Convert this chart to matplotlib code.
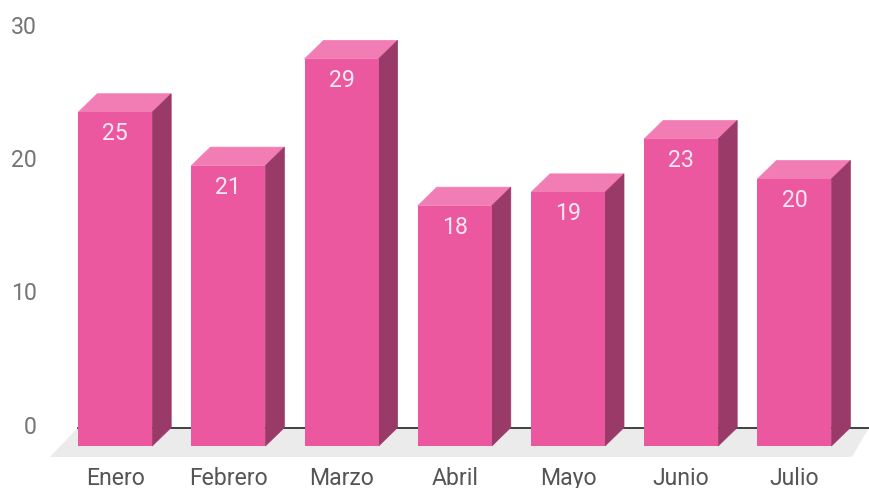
import matplotlib
matplotlib.use("Agg")
import matplotlib.pyplot as plt
from matplotlib.transforms import ScaledTranslation
from matplotlib.patches import Polygon

months = ["Enero", "Febrero", "Marzo", "Abril", "Mayo", "Junio", "Julio"]
values = [25, 21, 29, 18, 19, 23, 20]
y_ticks = [0, 10, 20, 30]

W, H = 869, 489
PX_X = 113.2      # pixels per category
PX_Y = 13.35      # pixels per value unit
X0_PX = 115.2     # centre of first category
Y0_PX = 447       # pixel row of front-plane zero
L, R, T, B = 50, 869, 10, 458  # axes box, in pixels
DX = 19 / PX_X    # depth offset
DY = 18.5 / PX_Y
BW = 74 / PX_X
FS = 16.6

FRONT, TOP, SIDE = "#EC589F", "#F27DB4", "#9A3A68"
FLOOR, AXIS = "#EBEBEB", "#333333"

plt.rcParams["font.family"] = ["Roboto", "DejaVu Sans"]
fig = plt.figure(figsize=(W / 100, H / 100), dpi=100)
ax = fig.add_axes([L / W, 1 - B / H, (R - L) / W, (B - T) / H])
ax.set_xlim((L - X0_PX) / PX_X, (R - X0_PX) / PX_X)
ax.set_ylim((Y0_PX - B) / PX_Y, (Y0_PX - T) / PX_Y)
for s in ax.spines.values():
    s.set_visible(False)
xmin, xmax = ax.get_xlim()
ymin, _ = ax.get_ylim()

# floor and back axis line
ax.add_patch(Polygon([(xmin, ymin), (xmin + 802 / PX_X, ymin), (xmax, DY),
                      (xmin + 28 / PX_X, DY)], closed=True, fc=FLOOR, ec="none", zorder=1))
ax.plot([xmin + 28 / PX_X, xmax], [DY, DY], color=AXIS, lw=1.3, zorder=1.5)

# bars
xs = list(range(len(values)))
ax.bar(xs, values, width=BW, color=FRONT, zorder=3)
for x, v in zip(xs, values):
    l, r = x - BW / 2, x + BW / 2
    ax.add_patch(Polygon([(l, v), (r, v), (r + DX, v + DY), (l + DX, v + DY)],
                         closed=True, fc=TOP, ec=TOP, lw=0.5, zorder=2))
    ax.add_patch(Polygon([(r, 0), (r + DX, DY), (r + DX, v + DY), (r, v)],
                         closed=True, fc=SIDE, ec=SIDE, lw=0.5, zorder=2.5))
    ax.annotate(str(v), (x, v), xytext=(0, -20.5 * 0.72), textcoords="offset points",
                ha="center", va="center", color="#FCE8F2", fontsize=FS, zorder=4)

ax.set_xticks(xs, months)
ax.set_yticks(y_ticks, [str(t) for t in y_ticks])
ax.tick_params(axis="x", length=0, pad=6.5, labelsize=FS, labelcolor="#555555")
ax.tick_params(axis="y", length=0, pad=9.5, labelsize=FS, labelcolor="#757575")
shift = ScaledTranslation(0, 22 / 100, fig.dpi_scale_trans)
for lab in ax.get_yticklabels():
    lab.set_transform(lab.get_transform() + shift)

fig.savefig("out.png", dpi=100)
